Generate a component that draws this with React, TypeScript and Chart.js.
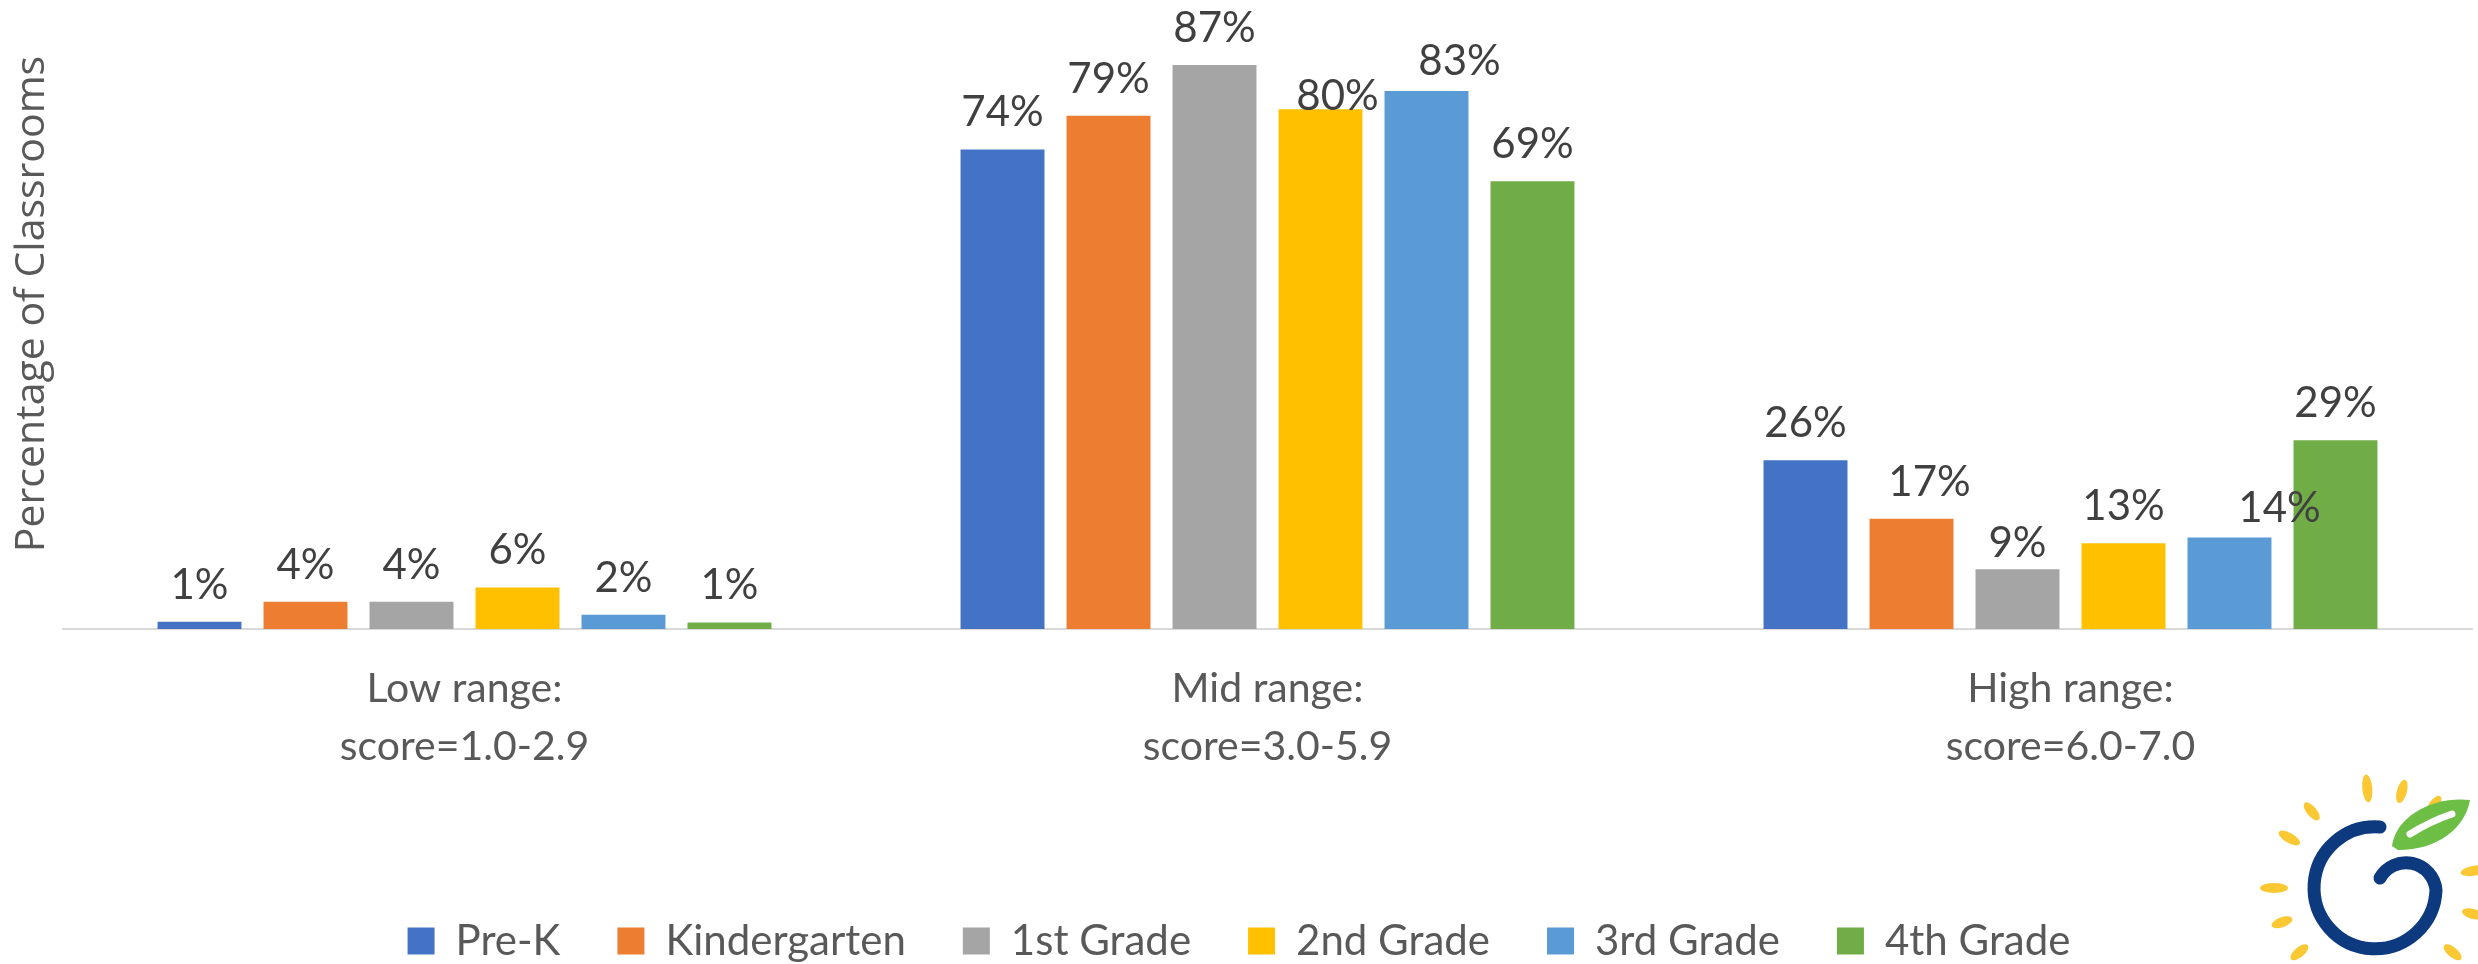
import React, { useEffect, useRef } from "react";
import { Chart, registerables } from "chart.js";

Chart.register(...registerables);

const categories: string[][] = [
  ["Low range:", "score=1.0-2.9"],
  ["Mid range:", "score=3.0-5.9"],
  ["High range:", "score=6.0-7.0"],
];
const seriesNames = ["Pre-K", "Kindergarten", "1st Grade", "2nd Grade", "3rd Grade", "4th Grade"];
const preK = [1.1, 73.9, 26.0];
const kindergarten = [4.2, 79.1, 17.0];
const firstGrade = [4.2, 86.9, 9.2];
const secondGrade = [6.4, 80.1, 13.2];
const thirdGrade = [2.2, 82.9, 14.1];
const fourthGrade = [1.0, 69.0, 29.1];
const seriesValues = [preK, kindergarten, firstGrade, secondGrade, thirdGrade, fourthGrade];
const seriesColors = ["#4472C4", "#ED7D31", "#A5A5A5", "#FFC000", "#5B9BD5", "#70AD47"];
const yTitle = "Percentage of Classrooms";

// manual label nudges (dataset-index -> pixel offsets), as in the original
const labelNudges: Record<string, { dx: number; dy: number }> = {
  "3-1": { dx: 17, dy: 24 },
  "4-1": { dx: 33, dy: 7 },
  "1-2": { dx: 18, dy: 0 },
  "2-2": { dx: 0, dy: 11 },
  "4-2": { dx: 50, dy: 8 },
};

const dataLabelPlugin = {
  id: "dataLabels",
  afterDatasetsDraw(chart: any) {
    const ctx = chart.ctx;
    ctx.save();
    ctx.font = "42px Lato";
    ctx.fillStyle = "#404040";
    ctx.textAlign = "center";
    ctx.textBaseline = "alphabetic";
    chart.data.datasets.forEach((ds: any, di: number) => {
      const meta = chart.getDatasetMeta(di);
      meta.data.forEach((bar: any, i: number) => {
        const n = labelNudges[`${di}-${i}`] || { dx: 0, dy: 0 };
        const text = Math.round(ds.data[i]) + "%";
        ctx.fillText(text, bar.x + n.dx, bar.y - 23 + n.dy);
      });
    });
    ctx.restore();
  },
};

const yTitlePlugin = {
  id: "yTitle",
  afterDraw(chart: any) {
    const ctx = chart.ctx;
    ctx.save();
    ctx.translate(32, 304);
    ctx.rotate(-Math.PI / 2);
    ctx.font = "41px 'Open Sans'";
    ctx.fillStyle = "#595959";
    ctx.textAlign = "center";
    ctx.textBaseline = "middle";
    ctx.fillText(yTitle, 0, 0);
    ctx.restore();
  },
};

function Logo() {
  const rays: [number, number, number][] = [
    [-95, 100, 14], [-75, 100, 12], [-55, 100, 12], [-150, 100, 12], [-130, 100, 11],
    [180, 102, 14], [160, 100, 11], [140, 100, 11], [120, 100, 11], [100, 100, 11],
    [-10, 100, 14], [15, 100, 11], [40, 100, 11], [65, 100, 11], [85, 100, 11],
  ];
  const cx = 116, cy = 118;
  return (
    <svg
      width={218}
      height={194}
      style={{ position: "absolute", left: 2260, top: 770 }}
      viewBox="0 0 218 194"
    >
      {rays.map(([a, r, len], k) => {
        const rad = (a * Math.PI) / 180;
        const x = cx + r * Math.cos(rad);
        const y = cy + r * Math.sin(rad);
        return (
          <ellipse
            key={k}
            cx={x}
            cy={y}
            rx={len}
            ry={5}
            fill="#F9C832"
            transform={`rotate(${a} ${x} ${y})`}
          />
        );
      })}
      <path
        d="M 120 57 A 61 61 0 1 0 176 120 A 30 30 0 0 0 120 108"
        fill="none"
        stroke="#0D3A7E"
        strokeWidth={13}
        strokeLinecap="round"
      />
      <path
        d="M 132 76 C 136 45, 175 26, 210 30 C 205 58, 178 80, 138 80 Z"
        fill="#6CBE45"
      />
      <path d="M 150 64 C 163 56, 180 48, 192 44" fill="none" stroke="#ffffff" strokeWidth={7} strokeLinecap="round" />
    </svg>
  );
}

export default function App() {
  const canvasRef = useRef<HTMLCanvasElement | null>(null);

  useEffect(() => {
    document.body.style.margin = "0";
    let chart: Chart | null = null;
    let cancelled = false;
    const build = () => {
      if (cancelled || !canvasRef.current) return;
      chart = new Chart(canvasRef.current, {
        type: "bar",
        data: {
          labels: categories,
          datasets: seriesNames.map((name, i) => ({
            label: name,
            data: seriesValues[i],
            backgroundColor: seriesColors[i],
            borderWidth: 0,
            categoryPercentage: 0.792,
            barPercentage: 0.792,
          })),
        },
        options: {
          animation: false,
          responsive: false,
          maintainAspectRatio: false,
          layout: { padding: { left: 6, right: 6, top: 45, bottom: -8 } },
          scales: {
            x: {
              grid: { display: false, drawTicks: false },
              border: { display: true, color: "#D9D9D9", width: 2 },
              ticks: {
                color: "#595959",
                font: { family: "Lato", size: 41, lineHeight: 1.415 },
                padding: 31,
                maxRotation: 0,
                autoSkip: false,
              },
              title: {
                display: true,
                text: " ",
                font: { size: 10, lineHeight: 1 },
                padding: { top: 0, bottom: 46 },
              },
            },
            y: {
              display: true,
              min: 0,
              max: 90,
              grid: { display: false, drawTicks: false },
              border: { display: false },
              ticks: { display: false },
              title: {
                display: true,
                text: " ",
                font: { size: 10, lineHeight: 1 },
                padding: { top: 47, bottom: 0 },
              },
            },
          },
          plugins: {
            legend: {
              position: "bottom",
              labels: {
                boxWidth: 27,
                boxHeight: 27,
                padding: 57,
                color: "#595959",
                font: { family: "Lato", size: 42, lineHeight: 1.0 },
              },
            },
            tooltip: { enabled: false },
          },
        },
        plugins: [dataLabelPlugin, yTitlePlugin],
      });
    };
    Promise.all([
      document.fonts.load("42px Lato"),
      document.fonts.load("41px 'Open Sans'"),
    ])
      .catch(() => undefined)
      .then(build);
    return () => {
      cancelled = true;
      if (chart) chart.destroy();
    };
  }, []);

  return (
    <div style={{ position: "relative", width: 2478, height: 964, background: "#ffffff" }}>
      <canvas ref={canvasRef} width={2478} height={964} style={{ display: "block" }} />
      <Logo />
    </div>
  );
}
